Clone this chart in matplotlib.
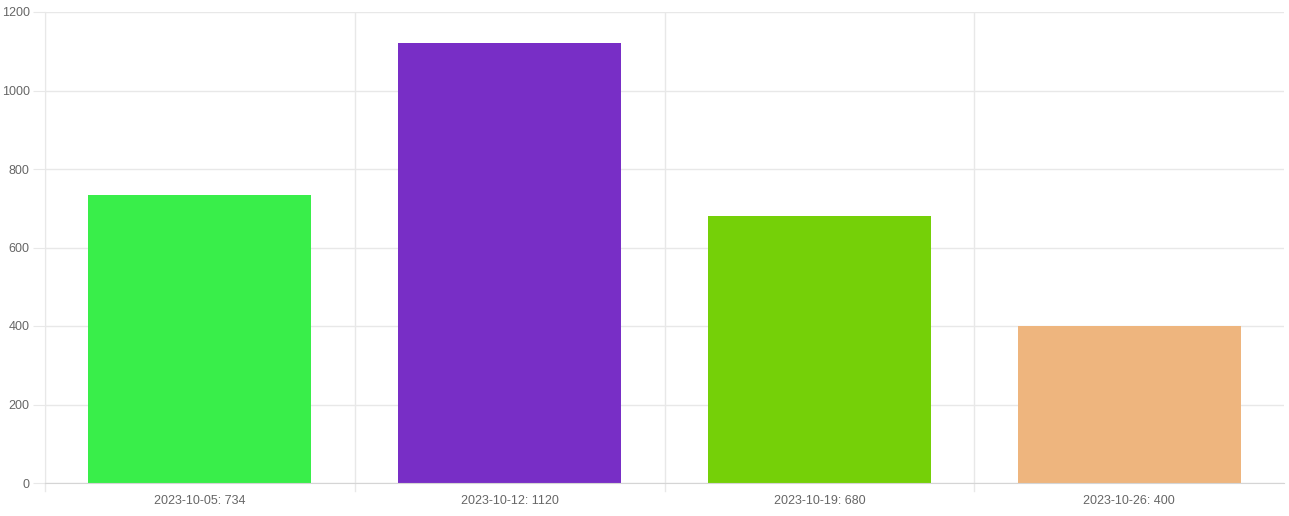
import matplotlib
matplotlib.use("Agg")
import matplotlib.pyplot as plt

categories = ["2023-10-05", "2023-10-12", "2023-10-19", "2023-10-26"]
values = [734, 1120, 680, 400]
colors = ["#39ee4a", "#782ec6", "#75d008", "#eeb57e"]
tick_labels = [f"{c}: {v}" for c, v in zip(categories, values)]

plt.rcParams['font.family'] = ['Liberation Sans', 'DejaVu Sans']

W, H = 1289, 516
fig = plt.figure(figsize=(W/100, H/100), dpi=100)
left, right, top, bottom = 45, 1284, 12, 483
ax = fig.add_axes([left/W, 1-bottom/H, (right-left)/W, (bottom-top)/H])

x = list(range(len(categories)))
ax.bar(x, values, width=0.72, color=colors, zorder=2)
ax.set_xlim(-0.5, len(categories)-0.5)
ax.set_ylim(0, 1200)
ax.set_yticks(range(0, 1201, 200))
ax.set_xticks(x)
ax.set_xticklabels(tick_labels)

grid_c = "#e8e8e8"
for b in [i + 0.5 for i in range(-1, len(categories) - 1)]:
    ax.axvline(b, color=grid_c, lw=1, zorder=0)
    ax.plot([b, b], [0, -0.018*1200], color=grid_c, lw=1, clip_on=False, zorder=0)
ax.yaxis.grid(True, color=grid_c, lw=1, zorder=0)

for s in ax.spines.values():
    s.set_visible(False)
ax.spines['bottom'].set_visible(True)
ax.spines['bottom'].set_color("#d5d5d5")
ax.spines['left'].set_visible(True)
ax.spines['left'].set_color(grid_c)

ax.tick_params(axis='y', length=9, color=grid_c, labelsize=9, labelcolor="#666666", pad=2)
ax.tick_params(axis='x', length=0, labelsize=9, labelcolor="#666666", pad=9)

fig.savefig("out.png", dpi=100)
